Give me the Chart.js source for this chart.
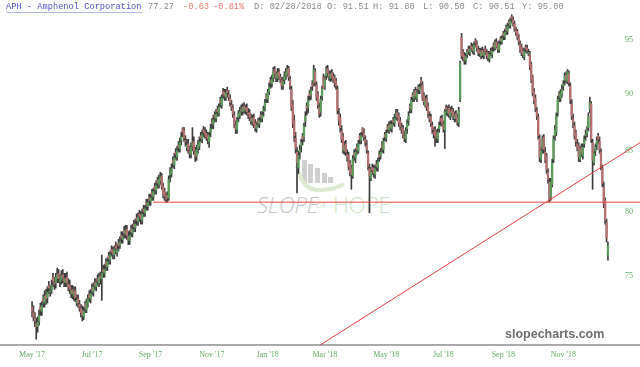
<!DOCTYPE html>
<html>
<head>
<meta charset="utf-8">
<script src="https://cdn.jsdelivr.net/npm/chart.js@4.4.1/dist/chart.umd.min.js"></script>
<style>
  body { margin: 0; background: #fff; }
  #wrap { position: relative; width: 640px; height: 367px; overflow: hidden; }
  #wm { position: absolute; left: 0; top: 0; }
  #c { position: absolute; left: 0; top: 0; }
  .hd { position: absolute; top: 2px; font-family: "Liberation Mono", monospace; font-size: 8.7px; line-height: 10px; color: #8a8a8a; white-space: pre; }
  #brand { position: absolute; left: 505px; top: 327px; font-family: "Liberation Sans", Arial, sans-serif; font-weight: bold; font-size: 12.5px; line-height: 14px; color: #6e6e6e; }
</style>
</head>
<body>
<div id="wrap">
  <svg id="wm" width="640" height="367">
    <g fill="#cfcfcf">
      <rect x="302" y="160" width="5" height="23"></rect>
      <rect x="308" y="164" width="5" height="19"></rect>
      <rect x="315" y="168" width="5" height="15"></rect>
      <rect x="322" y="173" width="5" height="10"></rect>
      <rect x="328" y="177" width="5" height="6"></rect>
    </g>
    <path d="M297 166 Q302 192 322 190 Q336 189 344 184" fill="none" stroke="#dcebd2" stroke-width="4"></path>
    <text x="257" y="213" font-family="Open Sans, sans-serif" font-style="italic" font-weight="300" font-size="22" fill="#c6c6c6">SLOPE</text>
    <text x="316" y="208" font-family="Open Sans, sans-serif" font-size="8" fill="#cfdcc8">OF</text>
    <text x="333" y="213" font-family="Open Sans, sans-serif" font-weight="300" font-size="22" fill="#cde5c4">HOPE</text>
  </svg>
  <canvas id="c" width="640" height="367"></canvas>
  <div class="hd" style="left:6px;color:#4f4fc4;border-bottom:1px solid #b4b8e8;">APH - Amphenol Corporation</div>
  <div class="hd" style="left:148px;">77.27</div>
  <div class="hd" style="left:183px;color:#e8766c;">-0.63</div>
  <div class="hd" style="left:213px;color:#e8766c;">-0.81%</div>
  <div class="hd" style="left:254px;">D: 02/28/2018</div>
  <div class="hd" style="left:327px;">O: 91.51</div>
  <div class="hd" style="left:373px;">H: 91.80</div>
  <div class="hd" style="left:423px;">L: 90.50</div>
  <div class="hd" style="left:473px;">C: 90.51</div>
  <div class="hd" style="left:522px;">Y: 95.00</div>
  <div id="brand">slopecharts.com</div>
</div>
<script>
// daily candles, May 2017 - Dec 2018 (index = trading day)
const opens = [
  72.7, 72.3, 71.9, 71.5, 71.3, 71.7, 72.7, 72.4, 73.3, 73.0,
  73.6, 73.4, 74.3, 73.8, 74.0, 74.9, 74.5, 74.5, 74.8, 75.2,
  74.6, 74.7, 75.1, 74.8, 74.5, 74.9, 74.4, 74.3, 73.7, 74.0,
  73.5, 73.9, 73.0, 73.3, 72.9, 72.6, 72.5, 72.0, 72.9, 72.5,
  73.0, 73.6, 73.3, 74.1, 73.8, 74.5, 74.2, 74.8, 74.5, 75.0,
  74.8, 75.5, 75.2, 76.0, 75.7, 76.5, 76.2, 77.0, 76.9, 76.6,
  77.3, 76.8, 77.5, 77.4, 78.1, 77.8, 78.5, 78.2, 78.6, 78.0,
  77.7, 78.6, 78.3, 79.0, 78.7, 79.5, 79.2, 79.8, 79.7, 79.3,
  80.2, 79.9, 80.7, 80.4, 81.1, 80.8, 81.5, 81.2, 82.0, 81.7,
  82.5, 82.2, 82.5, 82.9, 82.0, 81.6, 81.1, 81.3, 81.1, 83.0,
  83.1, 84.2, 83.8, 84.9, 84.5, 85.5, 85.2, 85.9, 86.9, 86.7,
  85.9, 85.3, 85.6, 85.0, 84.7, 85.4, 85.8, 84.9, 84.6, 85.2,
  85.4, 86.3, 86.0, 86.8, 86.6, 86.5, 86.3, 85.8, 86.6, 87.5,
  87.3, 88.1, 87.8, 88.6, 88.3, 89.4, 89.0, 90.2, 90.1, 89.7,
  90.3, 89.9, 89.6, 89.0, 88.7, 88.1, 87.2, 86.8, 87.9, 88.1,
  88.6, 88.4, 88.9, 88.5, 88.8, 88.3, 88.3, 87.8, 87.5, 87.9,
  87.4, 86.9, 87.6, 87.3, 88.1, 87.8, 88.4, 88.8, 89.8, 89.5,
  90.2, 91.2, 90.9, 91.4, 92.2, 91.7, 91.4, 92.0, 91.5, 91.2,
  90.8, 91.3, 91.7, 91.8, 92.3, 91.3, 90.4, 89.0, 87.6, 86.1,
  84.9, 83.6, 84.9, 85.4, 86.3, 86.2, 87.6, 88.9, 88.8, 90.0,
  89.9, 90.9, 91.0, 92.0, 90.8, 89.9, 88.8, 88.4, 89.8, 91.51,
  90.7, 91.6, 92.3, 91.8, 91.4, 91.9, 91.6, 91.4, 91.1, 90.4,
  88.2, 87.9, 86.7, 86.2, 85.0, 85.6, 84.7, 84.6, 83.9, 83.5,
  82.9, 84.8, 84.4, 85.3, 85.0, 86.3, 85.9, 86.9, 86.5, 86.0,
  85.5, 84.8, 83.5, 82.7, 83.6, 83.5, 83.0, 83.9, 83.6, 84.7,
  84.6, 85.5, 85.1, 86.4, 86.1, 87.1, 86.8, 87.3, 86.9, 87.7,
  87.4, 88.0, 88.3, 88.0, 87.6, 87.0, 86.9, 86.3, 86.0, 86.9,
  87.6, 88.9, 88.6, 89.9, 89.6, 90.3, 89.6, 90.6, 90.3, 91.2,
  90.8, 89.8, 89.0, 89.6, 88.9, 88.0, 87.9, 87.2, 86.6, 86.8,
  86.5, 86.0, 86.9, 87.8, 87.8, 87.3, 86.8, 88.8, 88.3, 88.7,
  88.0, 88.6, 88.4, 87.8, 88.2, 87.9, 87.4, 89.5, 95.2, 93.8,
  93.5, 93.0, 93.6, 94.1, 93.8, 94.4, 94.3, 93.9, 94.9, 94.6,
  94.1, 93.9, 93.5, 94.0, 93.5, 94.1, 93.8, 93.6, 93.2, 93.9,
  93.6, 94.5, 94.2, 94.8, 94.5, 94.0, 95.1, 94.8, 95.6, 95.3,
  96.1, 95.8, 96.7, 96.4, 97.2, 96.9, 96.5, 95.9, 95.8, 95.2,
  94.6, 94.3, 93.9, 93.4, 94.3, 94.2, 93.7, 93.6, 92.7, 91.5,
  90.2, 89.6, 88.5, 87.9, 86.1, 84.3, 85.2, 86.2, 84.9, 84.5,
  83.2, 82.4, 81.2, 82.2, 84.3, 86.3, 86.6, 88.3, 89.9, 89.6,
  90.0, 90.7, 91.2, 91.7, 91.1, 91.8, 90.7, 89.1, 87.8, 87.2,
  86.5, 85.6, 85.4, 84.3, 85.3, 84.6, 85.6, 86.3, 86.5, 87.0,
  88.6, 89.1, 85.7, 84.0, 85.0, 85.5, 86.3, 85.8, 84.9, 83.5,
  82.0, 80.9, 79.1, 76.6
];
const highs = [
  73.1, 72.8, 72.3, 71.9, 72.0, 72.5, 73.0, 73.1, 73.6, 73.9,
  74.0, 74.2, 74.6, 74.3, 74.7, 75.2, 74.9, 75.2, 75.6, 75.5,
  75.1, 75.4, 75.5, 75.2, 75.2, 75.3, 74.8, 74.7, 74.3, 74.3,
  74.2, 74.2, 73.6, 73.6, 73.2, 72.9, 72.8, 72.7, 73.1, 73.3,
  73.6, 73.9, 74.0, 74.4, 74.5, 74.8, 74.8, 75.1, 75.2, 75.3,
  76.6, 75.8, 75.9, 76.3, 76.4, 76.8, 76.9, 77.3, 77.2, 77.3,
  77.6, 77.4, 77.8, 78.0, 78.4, 78.4, 78.8, 78.9, 78.9, 78.4,
  78.5, 78.9, 79.0, 79.3, 79.4, 79.8, 79.9, 80.1, 80.0, 80.2,
  80.5, 80.5, 81.0, 81.0, 81.4, 81.4, 81.8, 81.9, 82.3, 82.5,
  82.8, 83.0, 83.2, 83.1, 82.3, 81.9, 81.5, 81.6, 82.9, 83.6,
  83.9, 84.5, 84.8, 85.2, 85.4, 85.8, 86.1, 86.6, 87.0, 87.0,
  86.3, 86.0, 86.0, 85.4, 85.7, 87.0, 86.2, 85.3, 85.5, 85.9,
  86.2, 86.6, 86.8, 87.1, 87.0, 86.8, 86.6, 86.6, 87.3, 87.8,
  88.1, 88.4, 88.6, 88.9, 89.1, 89.7, 89.9, 90.5, 90.4, 90.4,
  90.6, 90.3, 89.9, 89.4, 89.0, 88.4, 87.6, 87.9, 88.5, 88.8,
  89.0, 89.1, 89.2, 89.0, 89.1, 88.7, 88.6, 88.2, 88.1, 88.2,
  87.7, 87.5, 87.8, 87.9, 88.4, 88.4, 88.9, 89.5, 90.0, 90.4,
  91.0, 91.5, 91.7, 92.4, 92.5, 92.0, 92.3, 92.3, 91.8, 91.5,
  91.5, 92.0, 92.3, 92.6, 92.5, 91.6, 90.7, 89.4, 88.1, 86.6,
  85.3, 85.0, 85.5, 86.0, 86.5, 87.4, 88.4, 89.2, 89.8, 90.3,
  90.6, 91.2, 92.6, 92.3, 91.1, 90.2, 89.2, 89.8, 90.7, 91.80,
  91.6, 92.5, 92.6, 92.1, 92.1, 92.2, 91.9, 91.7, 91.4, 90.7,
  88.7, 88.2, 87.2, 86.5, 85.8, 85.9, 85.1, 84.9, 84.2, 83.8,
  84.6, 85.1, 85.2, 85.6, 85.9, 86.5, 86.6, 87.0, 86.9, 86.3,
  85.9, 85.0, 83.9, 83.6, 83.9, 83.8, 83.8, 84.2, 84.4, 85.0,
  85.2, 85.8, 86.1, 86.6, 86.8, 87.3, 87.5, 87.6, 87.6, 87.9,
  88.2, 88.6, 88.6, 88.3, 87.9, 87.4, 87.2, 86.7, 87.0, 87.7,
  88.4, 89.1, 89.7, 90.1, 90.4, 90.6, 90.4, 90.8, 90.9, 91.5,
  91.1, 90.1, 89.8, 89.9, 89.2, 88.4, 88.2, 87.5, 87.0, 87.1,
  86.8, 86.9, 87.5, 88.0, 88.1, 87.6, 88.6, 89.0, 88.9, 89.0,
  88.8, 88.9, 88.7, 88.4, 88.5, 88.2, 88.8, 93.0, 95.6, 94.1,
  93.8, 93.7, 94.1, 94.4, 94.4, 94.7, 94.6, 94.8, 95.1, 94.9,
  94.4, 94.2, 94.2, 94.3, 94.1, 94.4, 94.1, 93.9, 93.9, 94.2,
  94.3, 94.7, 95.0, 95.1, 94.8, 94.9, 95.3, 95.4, 95.8, 96.0,
  96.4, 96.6, 96.9, 97.1, 97.4, 97.2, 96.8, 96.2, 96.0, 95.5,
  94.9, 94.6, 94.2, 94.2, 94.5, 94.5, 94.1, 93.9, 92.9, 91.7,
  90.5, 89.9, 88.8, 88.2, 86.4, 85.3, 86.3, 86.4, 85.3, 84.8,
  83.5, 82.7, 82.7, 84.3, 86.3, 87.2, 88.3, 89.8, 90.2, 90.4,
  90.8, 91.2, 91.9, 92.0, 92.2, 92.1, 91.0, 89.5, 88.2, 87.5,
  86.8, 86.0, 85.7, 85.4, 85.6, 85.6, 86.3, 86.8, 87.1, 88.3,
  89.7, 89.3, 86.0, 85.1, 85.6, 86.2, 86.5, 86.2, 85.2, 83.8,
  82.4, 81.1, 79.4, 77.6
];
const lows = [
  72.0, 71.7, 71.3, 70.4, 70.9, 71.4, 72.1, 72.1, 72.7, 72.7,
  72.9, 73.0, 73.7, 73.5, 73.7, 74.2, 74.0, 74.1, 74.5, 74.5,
  74.2, 74.4, 74.5, 74.2, 74.2, 74.2, 73.9, 73.7, 73.4, 73.3,
  73.2, 73.1, 72.8, 72.7, 72.4, 72.0, 71.7, 71.8, 72.3, 72.3,
  72.7, 73.1, 73.0, 73.6, 73.5, 74.0, 73.9, 74.3, 74.2, 74.4,
  73.2, 74.9, 74.9, 75.4, 75.4, 75.9, 75.9, 76.5, 76.3, 76.3,
  76.7, 76.5, 76.9, 77.1, 77.5, 77.5, 77.9, 77.9, 77.8, 77.4,
  77.4, 78.0, 78.0, 78.4, 78.4, 78.9, 78.9, 79.2, 79.0, 79.0,
  79.6, 79.6, 80.1, 80.1, 80.5, 80.5, 80.9, 80.9, 81.4, 81.4,
  81.9, 81.9, 82.2, 81.8, 81.1, 80.9, 80.75, 80.75, 80.9, 82.4,
  82.8, 83.6, 83.5, 84.3, 84.2, 84.9, 84.9, 85.5, 86.2, 85.8,
  85.4, 85.0, 84.8, 84.4, 84.4, 85.0, 84.7, 84.1, 84.2, 84.8,
  85.1, 85.8, 85.7, 86.2, 86.1, 85.9, 85.6, 85.3, 86.2, 86.9,
  86.9, 87.5, 87.5, 88.0, 88.0, 88.8, 88.7, 89.6, 89.4, 89.4,
  89.7, 89.4, 88.9, 88.5, 87.9, 87.0, 86.5, 86.5, 87.5, 87.8,
  88.1, 88.1, 88.3, 88.2, 88.1, 87.8, 87.6, 87.3, 87.2, 87.0,
  86.7, 86.6, 87.1, 87.0, 87.5, 87.5, 88.0, 88.5, 89.2, 89.2,
  89.9, 90.5, 90.6, 91.1, 91.4, 91.1, 91.1, 91.3, 91.0, 90.4,
  90.4, 90.9, 91.3, 91.6, 91.2, 90.4, 88.5, 87.0, 85.8, 84.8,
  81.5, 83.1, 84.3, 84.9, 85.5, 85.8, 87.1, 88.1, 88.3, 89.4,
  89.5, 90.3, 90.7, 90.7, 89.4, 88.7, 87.9, 88.0, 89.4, 90.50,
  90.4, 91.3, 91.5, 91.2, 91.1, 91.2, 91.0, 90.6, 90.4, 88.2,
  87.2, 86.6, 85.7, 84.8, 84.7, 84.6, 84.1, 83.4, 82.9, 81.8,
  82.7, 84.2, 84.0, 84.7, 84.8, 85.6, 85.6, 86.2, 85.9, 85.4,
  84.8, 83.4, 79.9, 82.5, 83.0, 82.8, 82.7, 83.3, 83.3, 84.1,
  84.3, 84.9, 84.8, 85.9, 85.8, 86.6, 86.5, 86.7, 86.6, 87.2,
  87.1, 87.7, 87.6, 87.1, 86.8, 86.5, 86.1, 85.8, 85.7, 86.5,
  87.2, 88.3, 88.3, 89.3, 89.3, 89.5, 89.3, 90.0, 90.0, 90.6,
  89.4, 89.0, 88.8, 88.5, 87.9, 87.5, 87.1, 86.5, 86.1, 85.4,
  85.7, 85.7, 86.6, 87.2, 87.1, 86.6, 85.2, 88.1, 88.0, 87.9,
  87.7, 88.0, 87.7, 87.5, 87.5, 87.2, 87.1, 89.3, 93.2, 93.0,
  92.7, 92.7, 93.3, 93.6, 93.5, 93.9, 93.7, 93.6, 94.3, 93.9,
  93.5, 93.4, 93.2, 93.3, 93.2, 93.6, 93.2, 93.0, 92.9, 93.5,
  93.3, 93.9, 94.0, 94.2, 93.8, 93.8, 94.5, 94.6, 95.0, 95.0,
  95.5, 95.5, 96.1, 96.1, 96.6, 96.3, 95.8, 95.4, 95.0, 94.5,
  93.8, 93.5, 93.3, 93.1, 93.8, 93.7, 93.5, 92.2, 91.0, 89.8,
  89.1, 88.4, 87.7, 86.0, 84.1, 84.0, 84.8, 84.8, 84.0, 83.1,
  82.3, 80.75, 80.9, 82.0, 84.0, 85.9, 86.3, 88.0, 89.3, 89.3,
  89.7, 90.3, 90.8, 91.0, 90.9, 90.7, 89.1, 87.7, 87.0, 86.0,
  85.4, 85.0, 84.1, 84.1, 84.5, 84.3, 85.3, 85.9, 86.2, 86.7,
  88.3, 85.7, 81.8, 83.8, 84.6, 85.1, 85.6, 84.8, 83.4, 82.0,
  80.3, 79.0, 77.6, 76.2
];
const closes = [
  72.4, 72.0, 71.7, 71.3, 71.6, 72.1, 72.5, 72.8, 73.1, 73.5,
  73.3, 73.8, 74.1, 73.9, 74.3, 74.6, 74.4, 74.9, 75.1, 74.8,
  74.7, 75.0, 74.9, 74.6, 74.8, 74.5, 74.2, 74.0, 73.9, 73.7,
  73.8, 73.4, 73.2, 73.0, 72.7, 72.3, 72.1, 72.4, 72.7, 73.0,
  73.3, 73.4, 73.7, 73.9, 74.2, 74.3, 74.5, 74.6, 74.9, 74.8,
  75.2, 75.3, 75.5, 75.8, 76.1, 76.3, 76.6, 76.8, 76.7, 77.0,
  77.1, 77.0, 77.3, 77.6, 77.9, 78.0, 78.3, 78.5, 78.1, 77.8,
  78.1, 78.4, 78.6, 78.8, 79.0, 79.3, 79.5, 79.6, 79.4, 79.8,
  80.0, 80.2, 80.5, 80.7, 80.9, 81.1, 81.3, 81.6, 81.8, 82.1,
  82.3, 82.6, 82.8, 82.0, 81.4, 81.2, 81.0, 81.1, 82.6, 83.2,
  83.5, 84.0, 84.4, 84.7, 85.0, 85.3, 85.7, 86.2, 86.6, 86.1,
  85.8, 85.5, 85.1, 84.8, 85.3, 85.7, 85.0, 84.5, 85.1, 85.5,
  85.8, 86.1, 86.4, 86.6, 86.4, 86.2, 86.0, 86.3, 86.9, 87.4,
  87.7, 87.9, 88.2, 88.4, 88.8, 89.2, 89.6, 90.0, 89.8, 90.1,
  90.1, 89.7, 89.2, 88.8, 88.2, 87.3, 86.9, 87.6, 88.2, 88.4,
  88.5, 88.8, 88.6, 88.7, 88.4, 88.2, 87.9, 87.6, 87.8, 87.3,
  87.0, 87.2, 87.4, 87.6, 87.9, 88.1, 88.6, 89.2, 89.6, 90.1,
  90.6, 91.0, 91.3, 92.0, 91.8, 91.5, 91.9, 91.6, 91.3, 90.7,
  91.1, 91.6, 91.9, 92.2, 91.5, 90.7, 88.8, 87.4, 86.3, 85.2,
  84.0, 84.6, 85.1, 85.7, 86.0, 87.1, 88.0, 88.7, 89.4, 89.8,
  90.3, 90.7, 92.2, 91.0, 89.7, 89.0, 88.2, 89.5, 90.4, 90.51,
  91.3, 92.2, 91.9, 91.6, 91.8, 91.5, 91.3, 91.0, 90.7, 88.5,
  87.6, 87.0, 86.0, 85.1, 85.4, 84.9, 84.5, 83.7, 83.2, 83.0,
  84.3, 84.6, 84.9, 85.1, 85.6, 86.0, 86.3, 86.6, 86.2, 85.7,
  85.1, 83.7, 82.9, 83.2, 83.4, 83.1, 83.5, 83.7, 84.1, 84.5,
  84.9, 85.3, 85.8, 86.2, 86.5, 86.9, 87.2, 87.0, 87.3, 87.5,
  87.8, 88.2, 87.9, 87.4, 87.1, 86.8, 86.4, 86.1, 86.7, 87.4,
  88.0, 88.7, 89.4, 89.7, 90.1, 89.8, 90.1, 90.4, 90.6, 91.0,
  89.7, 89.3, 89.4, 88.8, 88.2, 87.8, 87.4, 86.8, 86.5, 86.3,
  86.1, 86.6, 87.2, 87.6, 87.4, 86.9, 88.4, 88.6, 88.5, 88.2,
  88.4, 88.3, 88.0, 88.1, 87.8, 87.5, 88.5, 92.8, 93.5, 93.4,
  93.1, 93.4, 93.8, 93.9, 94.1, 94.2, 94.0, 94.5, 94.7, 94.2,
  93.8, 93.7, 93.9, 93.6, 93.8, 93.9, 93.5, 93.3, 93.6, 93.8,
  93.9, 94.3, 94.7, 94.4, 94.1, 94.6, 94.9, 95.1, 95.4, 95.7,
  95.9, 96.3, 96.5, 96.8, 97.0, 96.6, 96.0, 95.7, 95.3, 94.8,
  94.1, 93.8, 93.6, 93.9, 94.1, 94.0, 93.8, 92.5, 91.3, 90.1,
  89.4, 88.7, 88.0, 86.3, 84.5, 85.0, 86.0, 85.1, 84.3, 83.4,
  82.6, 81.0, 82.4, 84.0, 86.0, 86.8, 88.0, 89.5, 89.8, 90.1,
  90.4, 90.9, 91.6, 91.3, 92.0, 91.0, 89.4, 88.0, 87.4, 86.3,
  85.8, 85.3, 84.5, 85.1, 84.8, 85.3, 86.0, 86.4, 86.8, 88.0,
  89.2, 86.0, 84.2, 84.8, 85.3, 85.9, 86.0, 85.1, 83.7, 82.3,
  80.6, 79.3, 77.9, 77.27
];

// x axis: trading-day index where each month label sits
const tickIdx = [0, 43, 85, 129, 169, 210, 254, 295, 338, 381];
const tickLabels = ["May '17", "Jul '17", "Sep '17", "Nov '17", "Jan '18", "Mar '18", "May '18", "Jul '18", "Sep '18", "Nov '18"];
const yTicks = [75, 80, 85, 90, 95];

// drawn support line and trend line (index, price)
const supportX = [87, 436];
const supportY = [80.75, 80.75];
const trendX = [206.6, 436];
const trendY = [70.0, 85.7];

const upColor = '#5c9c5a';
const downColor = '#b56f6f';
const wickColor = '#3c3c3c';
const labelGreen = '#62ad62';

var wickData = closes.map(function (c, i) { return { x: i, y: [lows[i], highs[i]] }; });
var bodyData = closes.map(function (c, i) { return { x: i, y: [Math.min(opens[i], c), Math.max(opens[i], c)] }; });

function candleColor(ctx) {
    var i = ctx.dataIndex;
    return closes[i] >= opens[i] ? upColor : downColor;
}

new Chart(document.getElementById('c'), {
    type: 'bar',
    data: {
        datasets: [
            {
                type: 'line',
                data: supportX.map(function (x, k) { return { x: x, y: supportY[k] }; }),
                borderColor: '#e5433d',
                borderWidth: 1,
                pointRadius: 0
            },
            {
                type: 'line',
                data: trendX.map(function (x, k) { return { x: x, y: trendY[k] }; }),
                borderColor: '#e5433d',
                borderWidth: 1,
                pointRadius: 0
            },
            {
                data: bodyData,
                backgroundColor: candleColor,
                barThickness: 1.6,
                minBarLength: 1,
                grouped: false
            },
            {
                data: wickData,
                backgroundColor: wickColor,
                barThickness: 1,
                grouped: false
            }
        ]
    },
    options: {
        responsive: false,
        animation: false,
        devicePixelRatio: 1,
        layout: { padding: 0 },
        plugins: {
            legend: { display: false },
            tooltip: { enabled: false }
        },
        scales: {
            x: {
                type: 'linear',
                min: -23,
                max: 436,
                offset: false,
                grid: { display: false, drawTicks: false },
                border: { display: true, color: '#aaaaaa', width: 2 },
                ticks: {
                    autoSkip: false,
                    maxRotation: 0,
                    padding: 5,
                    color: labelGreen,
                    font: { family: 'Liberation Serif', size: 8 },
                    callback: function (v) {
                        var k = tickIdx.indexOf(v);
                        return k >= 0 ? tickLabels[k] : '';
                    }
                },
                afterBuildTicks: function (s) { s.ticks = tickIdx.map(function (v) { return { value: v }; }); },
                afterFit: function (s) { s.height = 22; }
            },
            y: {
                type: 'logarithmic',
                position: 'right',
                min: 70,
                max: 98.85,
                grid: { display: false, drawTicks: false },
                border: { display: false },
                ticks: {
                    mirror: true,
                    padding: -7,
                    color: labelGreen,
                    font: { family: 'Liberation Serif', size: 8 },
                    callback: function (v) { return String(v); }
                },
                afterBuildTicks: function (s) { s.ticks = yTicks.map(function (v) { return { value: v }; }); },
                afterFit: function (s) { s.width = 0; }
            }
        }
    }
});
</script>
</body>
</html>
